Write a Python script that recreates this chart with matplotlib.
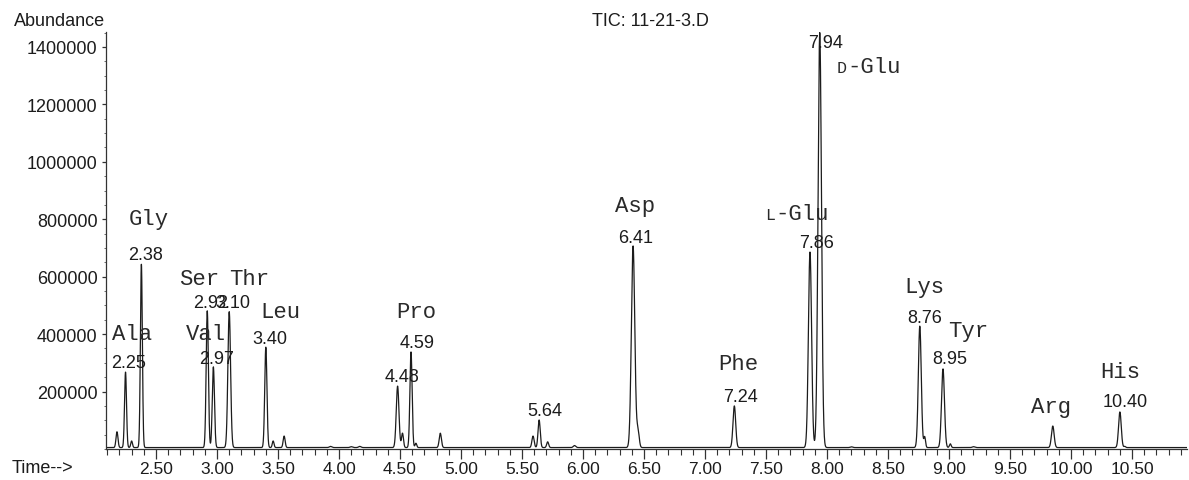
import numpy as np
import matplotlib
matplotlib.use('Agg')
import matplotlib.pyplot as plt
from matplotlib.ticker import MultipleLocator, FixedLocator

# peak table: retention time (min), height, width (sigma, min)
peak_times = [2.18, 2.25, 2.30, 2.38, 2.92, 2.97, 3.10, 3.40, 3.46, 3.55,
              3.93, 4.10, 4.17, 4.48, 4.52, 4.59, 4.63, 4.83, 5.59, 5.64,
              5.71, 5.93, 6.41, 6.45, 7.24, 7.86, 7.94, 8.20, 8.76, 8.80,
              8.95, 9.01, 9.20, 9.85, 10.40, 10.44]
peak_heights = [60000, 268000, 28000, 644000, 481000, 286000, 478000, 355000, 28000, 45000,
                8000, 6000, 8000, 219000, 55000, 338000, 20000, 55000, 45000, 101000,
                25000, 12000, 707000, 65000, 150000, 686000, 1450000, 5000, 428000, 42000,
                279000, 18000, 6000, 80000, 129000, 8000]
peak_widths = [0.008, 0.008, 0.007, 0.008, 0.009, 0.009, 0.011, 0.009, 0.007, 0.008,
               0.010, 0.010, 0.010, 0.011, 0.008, 0.009, 0.007, 0.009, 0.009, 0.009,
               0.008, 0.010, 0.014, 0.010, 0.011, 0.013, 0.014, 0.010, 0.012, 0.007,
               0.012, 0.007, 0.010, 0.011, 0.011, 0.007]
baseline = 5000

# annotations
rt_labels = ['2.25', '2.38', '2.92', '2.97', '3.10', '3.40', '4.48', '4.59', '5.64',
             '6.41', '7.24', '7.86', '7.94', '8.76', '8.95', '10.40']
amino_names = ['Gly', 'Ala', 'Ser', 'Thr', 'Val', 'Leu', 'Pro', 'Asp', 'Phe',
               'Lys', 'Tyr', 'Arg', 'His']
glu_names = [('L', '-Glu'), ('D', '-Glu')]

# label placement (data coords, centre x / baseline y)
rt_pos = [(2.279, 286000), (2.418, 662000), (2.951, 495000), (3.000, 300000),
          (3.131, 495000), (3.434, 369000), (4.516, 237000), (4.639, 355000),
          (5.689, 118000), (6.434, 721000), (7.287, 167000), (7.910, 704000),
          (7.984, 1401000), (8.803, 442000), (9.008, 300000), (10.443, 150000)]
name_pos = [(2.443, 784000), (2.303, 383000), (2.852, 575000), (3.262, 575000),
            (2.910, 383000), (3.516, 460000), (4.631, 460000), (6.426, 829000),
            (7.270, 279000), (8.795, 547000), (9.156, 394000), (9.836, 129000),
            (10.402, 251000)]
glu_pos = [(7.574, 801000), (8.164, 1313000)]

SANS = 'Liberation Sans'
MONO = 'Liberation Mono'
INK = '#1c1c1c'

t = np.linspace(2.09, 10.95, 9000)
signal = np.full_like(t, baseline, dtype=float)
for rt, h, w in zip(peak_times, peak_heights, peak_widths):
    signal += max(h - baseline, h * 0.5) * np.exp(-0.5 * ((t - rt) / w) ** 2)

fig = plt.figure(figsize=(11.89, 4.81), dpi=100)
ax = fig.add_axes([106 / 1189, 1 - 450 / 481, 1081 / 1189, 417 / 481])
ax.plot(t, signal, color=INK, lw=0.9)

ax.set_xlim(2.09, 10.95)
ax.set_ylim(0, 1452000)
for s in ['top', 'right']:
    ax.spines[s].set_visible(False)
for s in ['left', 'bottom']:
    ax.spines[s].set_color('#333333')
    ax.spines[s].set_linewidth(0.9)

ax.xaxis.set_major_locator(MultipleLocator(0.5))
ax.xaxis.set_minor_locator(MultipleLocator(0.1))
ax.xaxis.set_major_formatter(lambda v, p: '%.2f' % v)
ax.yaxis.set_major_locator(FixedLocator([200000, 400000, 600000, 800000, 1000000, 1200000, 1400000]))
ax.yaxis.set_minor_locator(MultipleLocator(50000))
ax.yaxis.set_major_formatter(lambda v, p: '%d' % v)
ax.tick_params(axis='x', which='major', length=7, width=0.9, color='#333333', pad=2,
               labelsize=12.5, labelcolor=INK)
ax.tick_params(axis='x', which='minor', length=4, width=0.8, color='#333333')
ax.tick_params(axis='y', which='major', length=3, width=0.9, color='#333333', pad=3,
               labelsize=13, labelcolor=INK)
ax.tick_params(axis='y', which='minor', length=1.5, width=0.6, color='#555555')
for lab in ax.get_xticklabels() + ax.get_yticklabels():
    lab.set_fontfamily(SANS)

for txt, (x, y) in zip(rt_labels, rt_pos):
    ax.text(x, y, txt, ha='center', va='baseline', fontsize=13, family=SANS, color=INK)
for txt, (x, y) in zip(amino_names, name_pos):
    ax.text(x, y, txt, ha='center', va='baseline', fontsize=16, family=MONO, color='#2a2a2a')
for (pre, rest), (x, y) in zip(glu_names, glu_pos):
    ax.text(x, y, rest, ha='left', va='baseline', fontsize=16, family=MONO, color='#2a2a2a')
    ax.text(x, y, pre, ha='right', va='baseline', fontsize=12, family=MONO, color='#2a2a2a')

fig.text(105 / 1189, 1 - 22 / 481, 'Abundance', ha='right', va='center', fontsize=13, family=SANS, color=INK)
fig.text(650 / 1189, 1 - 21 / 481, 'TIC: 11-21-3.D', ha='center', va='center', fontsize=13, family=SANS, color=INK)
fig.text(12 / 1189, 1 - 469 / 481, 'Time-->', ha='left', va='center', fontsize=13, family=SANS, color=INK)

fig.savefig('out.png', dpi=100)
